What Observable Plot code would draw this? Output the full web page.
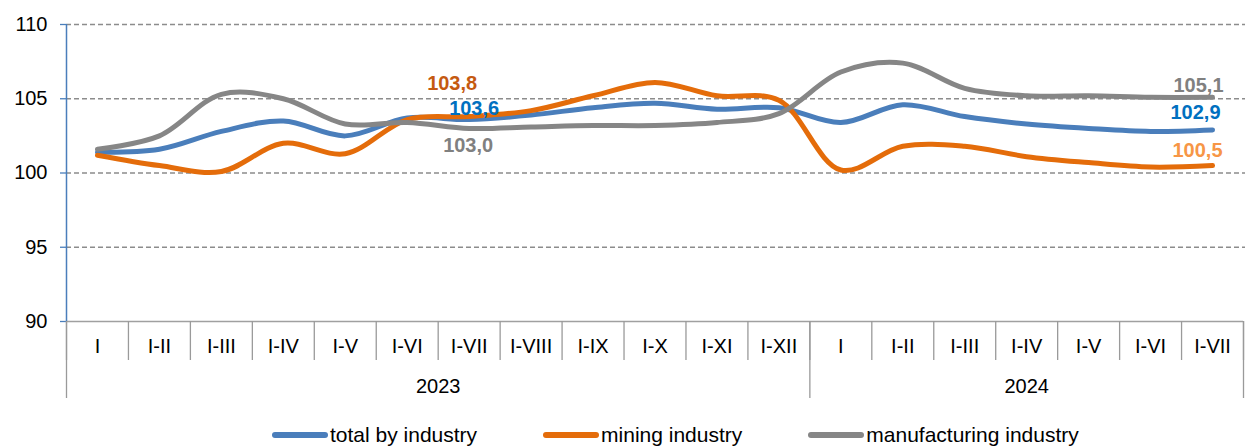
<!DOCTYPE html>
<html><head><meta charset="utf-8">
<script src="https://cdn.jsdelivr.net/npm/d3@7"></script>
<script src="https://cdn.jsdelivr.net/npm/@observablehq/plot@0.6"></script>
<style>
body{margin:0;background:#fff;font-family:"Liberation Sans",Arial,sans-serif;}
#legend{display:flex;justify-content:flex-start;gap:66px;font-size:21px;line-height:24px;color:#000;margin-top:13px;padding-left:272px;}
#legend span.item{display:flex;align-items:center;}
#legend span.sw{display:inline-block;width:56px;height:6px;border-radius:3px;margin-right:2px;}
</style></head>
<body>
<div id="chart"></div>
<div id="legend"></div>
<script>
const periods = ["I","I-II","I-III","I-IV","I-V","I-VI","I-VII","I-VIII","I-IX","I-X","I-XI","I-XII",
                 "I","I-II","I-III","I-IV","I-V","I-VI","I-VII"];
const years = ["2023","2024"];
const yearCounts = [12, 7];
const totalIndustry = [101.4,101.6,102.8,103.5,102.5,103.7,103.6,103.9,104.4,104.7,104.3,104.4,
                       103.4,104.6,103.8,103.3,103.0,102.8,102.9];
const miningIndustry = [101.2,100.5,100.1,102.0,101.3,103.6,103.8,104.2,105.2,106.1,105.2,104.9,
                        100.2,101.8,101.8,101.1,100.7,100.4,100.5];
const manufacturingIndustry = [101.6,102.5,105.3,105.0,103.3,103.4,103.0,103.1,103.2,103.2,103.4,104.0,
                               106.8,107.4,105.7,105.2,105.2,105.1,105.1];
const seriesNames = ["total by industry","mining industry","manufacturing industry"];
const lineColors = ["#4A7EBB","#E46C0A","#868686"];
const yTicks = [90,95,100,105,110];

const rows = [];
[totalIndustry, miningIndustry, manufacturingIndustry].forEach((arr, s) =>
  arr.forEach((v, i) => rows.push({i, v, s: seriesNames[s]})));

const labels = [
  {i:6, v:103.8, t:"103,8", c:"#C55A11", dx:-17, dy:-33},
  {i:6, v:103.6, t:"103,6", c:"#0070C0", dx:5, dy:-11},
  {i:6, v:103.0, t:"103,0", c:"#808080", dx:-1, dy:17},
  {i:18, v:105.1, t:"105,1", c:"#808080", dx:-14, dy:-12},
  {i:18, v:102.9, t:"102,9", c:"#0070C0", dx:-17, dy:-17},
  {i:18, v:100.5, t:"100,5", c:"#F79646", dx:-15, dy:-15}
];

const idx = periods.map((_, i) => i);
const bounds = d3.range(-0.5, periods.length, 1);
let acc = 0;
const yearBounds = [-0.5];
const yearCenters = [];
yearCounts.forEach(c => { yearCenters.push(acc - 0.5 + c / 2); acc += c; yearBounds.push(acc - 0.5); });

const labelMarks = labels.map(d =>
  Plot.text([d], {x: "i", y: "v", text: "t", fill: d.c, dx: d.dx, dy: d.dy, fontSize: 20, fontWeight: "bold"}));

const chart = Plot.plot({
  width: 1245, height: 410,
  marginLeft: 66, marginRight: 2, marginTop: 24, marginBottom: 89,
  style: {fontFamily: "Liberation Sans, Arial, sans-serif", background: "#fff"},
  x: {domain: [-0.5, periods.length - 0.5], axis: null},
  y: {domain: [90, 110], axis: null},
  color: {domain: seriesNames, range: lineColors},
  marks: [
    Plot.ruleY([95,100,105,110], {stroke: "#8c8c8c", strokeDasharray: "5,3", strokeWidth: 1.3, x1: -0.5, x2: 18.7}),
    Plot.ruleY([90], {stroke: "#a0a0a0", strokeWidth: 1.3}),
    Plot.axisY({ticks: yTicks, tickSize: 6, tickFormat: () => "", stroke: "#4A7EBB", strokeWidth: 1.3, label: null}),
    Plot.axisY({ticks: yTicks, tickSize: 0, tickPadding: 19, fontSize: 20, fill: "#000", label: null}),
    Plot.ruleX([-0.5], {stroke: "#4A7EBB", strokeWidth: 1.5}),
    Plot.axisX({ticks: bounds, tickSize: 39, tickFormat: () => "", stroke: "#9a9a9a", strokeWidth: 1.3, label: null}),
    Plot.axisX({ticks: yearBounds, tickSize: 77, tickFormat: () => "", stroke: "#9a9a9a", strokeWidth: 1.3, label: null}),
    Plot.axisX({ticks: idx, tickSize: 0, tickPadding: 17, tickFormat: i => periods[i], fontSize: 20, fill: "#000", label: null}),
    Plot.axisX({ticks: yearCenters, tickSize: 0, tickPadding: 57, tickFormat: (d, k) => years[k], fontSize: 20, fill: "#000", label: null}),
    Plot.line(rows, {x: "i", y: "v", z: "s", stroke: "s", strokeWidth: 5, curve: "catmull-rom", strokeLinecap: "round"}),
    ...labelMarks
  ]
});
document.getElementById("chart").appendChild(chart);

const lg = document.getElementById("legend");
seriesNames.forEach((n, k) => {
  const it = document.createElement("span"); it.className = "item";
  const sw = document.createElement("span"); sw.className = "sw"; sw.style.background = lineColors[k];
  it.appendChild(sw); it.appendChild(document.createTextNode(n)); lg.appendChild(it);
});
</script>
</body></html>
